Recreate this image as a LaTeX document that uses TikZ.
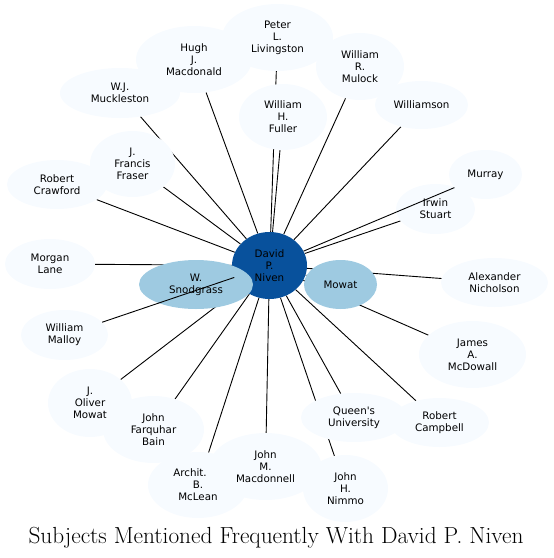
\documentclass[tikz,border=0pt]{standalone}
\usepackage{fontspec}
\newfontfamily\dv{DejaVu Sans}[Ligatures=TeXOff]
\usetikzlibrary{shapes.geometric,backgrounds}
\definecolor{leafc}{HTML}{F7FBFF}
\definecolor{midc}{HTML}{9ECAE1}
\definecolor{ctrc}{HTML}{08519C}
\tikzset{
  base/.style={ellipse, inner sep=0pt, align=center, text=black,
    font=\dv\fontsize{10.3}{12}\selectfont},
  leaf/.style={base, fill=leafc},
  midnode/.style={base, fill=midc},
  ctrnode/.style={base, fill=ctrc},
  sz/.style 2 args={minimum width=#1*2pt, minimum height=#2*2pt},
  link/.style={draw=black, line width=0.9pt},
}
\begin{document}
\begin{tikzpicture}[x=1pt,y=-1pt]
\useasboundingbox (0,0) rectangle (554,558);
% leaves
\node[leaf, sz={55.5}{33.5}] (liv) at (277.5,37.5) {Peter\\L.\\Livingston};
\node[leaf, sz={58}{33.5}] (hugh) at (194,59.5) {Hugh\\J.\\Macdonald};
\node[leaf, sz={44}{33.5}] (mulock) at (360,66.5) {William\\R.\\Mulock};
\node[leaf, sz={46.5}{24}] (williamson) at (421.5,105) {Williamson};
\node[leaf, sz={60}{25}] (muck) at (120,93) {W.J.\\Muckleston};
\node[leaf, sz={44}{33}] (fuller) at (283,117) {William\\H.\\Fuller};
\node[leaf, sz={42.5}{33}] (fraser) at (132.5,164) {J.\\Francis\\Fraser};
\node[leaf, sz={50}{24.5}] (crawford) at (57,184.5) {Robert\\Crawford};
\node[leaf, sz={36.5}{24.5}] (murray) at (485.5,174.5) {Murray};
\node[leaf, sz={39.5}{25}] (stuart) at (435.5,209) {Irwin\\Stuart};
\node[leaf, sz={45}{25}] (lane) at (50,264) {Morgan\\Lane};
\node[leaf, sz={53.5}{24.5}] (nich) at (494.5,282.5) {Alexander\\Nicholson};
\node[leaf, sz={43.5}{25}] (malloy) at (64.5,335) {William\\Malloy};
\node[leaf, sz={53.5}{33.5}] (mcdowall) at (472.5,354.5) {James\\A.\\McDowall};
\node[leaf, sz={42}{34}] (omowat) at (90,403) {J.\\Oliver\\Mowat};
\node[leaf, sz={50.5}{33.5}] (bain) at (153.5,429.5) {John\\Farquhar\\Bain};
\node[leaf, sz={53}{24.5}] (queens) at (354,417.5) {Queen's\\University};
\node[leaf, sz={49.5}{24.5}] (campbell) at (439.5,422.5) {Robert\\Campbell};
\node[leaf, sz={50}{33}] (mclean) at (198,485) {Archit.\hspace*{16pt}\\B.\\McLean};
\node[leaf, sz={56}{33.5}] (macdonnell) at (265.5,466.5) {John\\M.\\Macdonnell};
\node[leaf, sz={42.5}{33.5}] (nimmo) at (345.5,488.5) {John\\H.\\Nimmo};
% centre and second ring
\node[ctrnode, sz={37.5}{33.5}] (niven) at (269.5,265.5) {David\\P.\\Niven};
\node[midnode, sz={57}{24.5}] (snod) at (196,284.5) {W.\\Snodgrass};
\node[midnode, sz={36.5}{24.5}] (mowat) at (340.5,284.5) {Mowat};
% edges behind the nodes
\begin{scope}[on background layer]
\foreach \t in {liv,hugh,mulock,williamson,muck,fuller,fraser,crawford,
  stuart,lane,nich,mcdowall,omowat,bain,queens,campbell,mclean,
  macdonnell,nimmo,snod,mowat}
  \draw[link] (niven) -- (\t);
\end{scope}
% edges drawn over other nodes
\draw[link] (niven) -- (malloy);
\draw[link] (niven) -- (murray);
% title
\node[font=\fontsize{23.3}{28}\selectfont, anchor=base] (title) at (276,543)
  {Subjects Mentioned Frequently With David P. Niven};
\end{tikzpicture}
\end{document}
